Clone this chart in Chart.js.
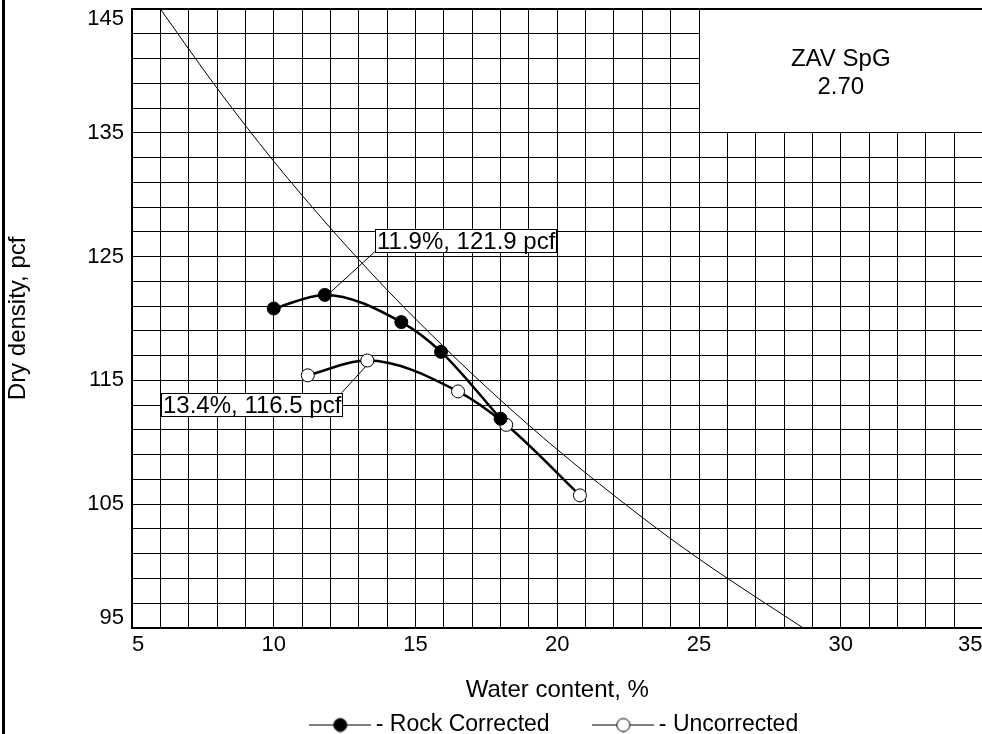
<!DOCTYPE html>
<html>
<head>
<meta charset="utf-8">
<title>Proctor curve</title>
<script src="https://cdn.jsdelivr.net/npm/chart.js@4.4.0/dist/chart.umd.min.js"></script>
<style>
  html, body { margin: 0; padding: 0; background: #fff; overflow: hidden; }
  /* a bit taller than the window: the legend's spare bottom space falls off the page */
  #wrap { position: relative; width: 990px; height: 746px; }
  #frame { position: absolute; left: 2px; top: 0; width: 3px; height: 746px; background: #000; }
</style>
</head>
<body>
<div id="wrap"><canvas id="chart"></canvas><div id="frame"></div></div>
<script>
// points
const rockWater   = [10.0, 11.8, 14.5, 15.9, 18.0];
const rockDensity = [120.8, 121.9, 119.7, 117.3, 111.9];
const unWater     = [11.2, 13.3, 16.5, 18.2, 20.8];
const unDensity   = [115.4, 116.6, 114.1, 111.4, 105.7];

// zero air voids curve (SpG 2.70)
const zavWater   = [6, 8, 10, 12, 14, 16, 18, 20, 22, 24, 26, 28, 29];
const zavDensity = [145.0, 138.6, 132.7, 127.3, 122.3, 117.7, 113.4, 109.4, 105.7, 102.2, 99.0, 96.0, 94.5];

// optimum callouts
const optLabels  = ['11.9%, 121.9 pcf', '13.4%, 116.5 pcf'];
const optWater   = [11.9, 13.4];
const optDensity = [121.9, 116.5];

const xTicks = [5, 10, 15, 20, 25, 30, 35];
const yTicks = [95, 105, 115, 125, 135, 145];

const FONT = '"Liberation Sans", Arial, sans-serif';

// where the callout boxes sit (corner in data units)
const boxAt = [
  {x: 13.57, y: 125.4, corner: 'bl'},
  {x: 12.4, y: 114.0, corner: 'tr'}
];

function toXY(xs, ys) {
  return xs.map((v, i) => ({x: v, y: ys[i]}));
}

function legendIcon(filled) {
  const c = document.createElement('canvas');
  c.width = 62; c.height = 16;
  const g = c.getContext('2d');
  g.strokeStyle = '#000';
  g.lineWidth = 1;
  g.beginPath(); g.moveTo(0, 8.5); g.lineTo(62, 8.5); g.stroke();
  g.beginPath(); g.arc(31, 8.5, 6.5, 0, Math.PI * 2);
  g.fillStyle = filled ? '#000' : '#fff';
  g.fill(); g.stroke();
  return c;
}
const legendIcons = [legendIcon(true), legendIcon(false)];

// blank the top right corner and write the ZAV note in it
const zavBox = {
  id: 'zavBox',
  beforeDatasetsDraw(chart) {
    const {ctx, chartArea, scales: {x, y}} = chart;
    const left = Math.round(x.getPixelForValue(25) - 0.5) + 1;
    const bottom = Math.round(y.getPixelForValue(135) - 0.5);
    const top = Math.round(chartArea.top - 1) + 2;
    ctx.save();
    ctx.fillStyle = '#fff';
    ctx.fillRect(left, top, chart.width - left, bottom - top);
    ctx.fillStyle = '#000';
    ctx.font = '24px ' + FONT;
    ctx.textAlign = 'center';
    ctx.textBaseline = 'middle';
    const cx = (x.getPixelForValue(25) + chartArea.right) / 2;
    const cy = (chartArea.top + y.getPixelForValue(135)) / 2;
    ctx.fillText('ZAV SpG', cx, cy - 12);
    ctx.fillText('2.70', cx, cy + 16);
    // leader lines go under the markers
    ctx.strokeStyle = '#000';
    ctx.lineWidth = 1;
    optLabels.forEach((t, i) => {
      ctx.beginPath();
      ctx.moveTo(x.getPixelForValue(optWater[i]), y.getPixelForValue(optDensity[i]));
      ctx.lineTo(x.getPixelForValue(boxAt[i].x), y.getPixelForValue(boxAt[i].y));
      ctx.stroke();
    });
    ctx.restore();
  },
  afterDatasetsDraw(chart) {
    const {ctx, scales: {x, y}} = chart;
    ctx.save();
    ctx.font = '24px ' + FONT;
    ctx.lineWidth = 1;
    ctx.strokeStyle = '#000';
    optLabels.forEach((txt, i) => {
      const cx = x.getPixelForValue(boxAt[i].x), cy = y.getPixelForValue(boxAt[i].y);
      const w = Math.round(ctx.measureText(txt).width + 3), h = 23;
      const bx = Math.round(boxAt[i].corner === 'bl' ? cx : cx - w);
      const by = Math.round(boxAt[i].corner === 'bl' ? cy - h : cy);
      ctx.fillStyle = '#fff';
      ctx.fillRect(bx, by, w, h);
      ctx.strokeRect(bx + 0.5, by + 0.5, w, h);
      ctx.fillStyle = '#000';
      ctx.textAlign = 'left';
      ctx.textBaseline = 'middle';
      ctx.fillText(txt, bx + 2, by + h / 2 + 2);
    });
    ctx.restore();
  }
};

const ctx = document.getElementById('chart').getContext('2d');
const chart = new Chart(ctx, {
  type: 'line',
  data: {
    datasets: [{
      label: 'Rock Corrected',
      data: toXY(rockWater, rockDensity),
      borderColor: '#000',
      borderWidth: 2.5,
      pointRadius: 6.5,
      pointBackgroundColor: '#000',
      pointBorderColor: '#000',
      pointBorderWidth: 1,
      cubicInterpolationMode: 'monotone'
    }, {
      label: 'Uncorrected',
      data: toXY(unWater, unDensity),
      borderColor: '#000',
      borderWidth: 2.5,
      pointRadius: 6.5,
      pointBackgroundColor: '#fff',
      pointBorderColor: '#000',
      pointBorderWidth: 1,
      cubicInterpolationMode: 'monotone'
    }, {
      label: 'ZAV',
      data: toXY(zavWater, zavDensity),
      borderColor: '#000',
      borderWidth: 1,
      pointRadius: 0,
      cubicInterpolationMode: 'monotone'
    }]
  },
  options: {
    responsive: true,
    maintainAspectRatio: false,
    animation: false,
    layout: { padding: { top: 9, right: 4, left: 0, bottom: 0 } },
    scales: {
      x: {
        type: 'linear',
        min: 5, max: 35,
        grid: { color: '#000', lineWidth: 1, drawTicks: false },
        border: { color: '#000', width: 2 },
        ticks: {
          stepSize: 1,
          autoSkip: false,
          maxRotation: 0,
          align: 'inner',
          padding: 4,
          color: '#000',
          font: { family: FONT, size: 22 },
          callback: v => xTicks.includes(v) ? String(v) : ''
        },
        title: {
          display: true,
          text: 'Water content, %',
          color: '#000',
          font: { family: FONT, size: 24 },
          padding: { top: 14, bottom: 3 }
        }
      },
      y: {
        min: 95, max: 145,
        grid: {
          color: '#000',
          drawTicks: false,
          lineWidth: c => (c.tick && c.tick.value === 145) ? 2 : 1
        },
        border: { color: '#000', width: 2 },
        ticks: {
          stepSize: 2,
          autoSkip: false,
          padding: 8,
          color: '#000',
          font: { family: FONT, size: 22, lineHeight: 0.9 },
          // end labels are nudged inside the frame like the original
          callback: v => {
            if (!yTicks.includes(v)) return '';
            if (v === 145) return ['', '145'];
            if (v === 95) return ['95', ''];
            return String(v);
          }
        },
        title: {
          display: true,
          text: 'Dry density, pcf',
          color: '#000',
          font: { family: FONT, size: 24 },
          padding: { top: 4, bottom: 0 }
        },
        afterFit(scale) {
          scale.width = 132;
          scale.paddingTop = 0;
          scale.paddingBottom = 0;
        }
      }
    },
    plugins: {
      tooltip: { enabled: false },
      legend: {
        position: 'bottom',
        fullSize: false,
        labels: {
          color: '#000',
          font: { family: FONT, size: 23 },
          usePointStyle: true,
          pointStyleWidth: 48,
          boxHeight: 16,
          padding: 5,
          filter: item => item.datasetIndex < 2,
          generateLabels(chart) {
            const items = Chart.defaults.plugins.legend.labels.generateLabels(chart);
            items.forEach(it => {
              it.text = '- ' + it.text + (it.datasetIndex === 0 ? '       ' : '');
              it.pointStyle = legendIcons[it.datasetIndex] || it.pointStyle;
            });
            return items;
          }
        }
      }
    }
  },
  plugins: [zavBox]
});
</script>
</body>
</html>
